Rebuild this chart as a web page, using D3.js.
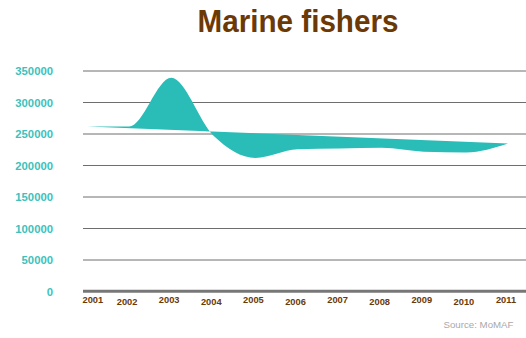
<!DOCTYPE html>
<html>
<head>
<meta charset="utf-8">
<script src="https://cdn.jsdelivr.net/npm/d3@7"></script>
<style>
  html, body { margin: 0; padding: 0; background: #fff; }
  svg { display: block; }
</style>
</head>
<body>
<svg id="chart" width="526" height="338"></svg>
<script>
// Marine fishers per year
const years   = [2001, 2002, 2003, 2004, 2005, 2006, 2007, 2008, 2009, 2010, 2011];
const fishers = [261000, 261000, 338500, 247000, 211300, 225000, 226200, 227400, 221100, 219800, 234100];

// Straight reference line between the first and last year
const trendYears  = [2001, 2011];
const trendValues = [261000, 234100];

const yTicks = [0, 50000, 100000, 150000, 200000, 250000, 300000, 350000];
const xTickLabels = ["2001", "2002", "2003", "2004", "2005", "2006", "2007", "2008", "2009", "2010", "2011"];

const svg = d3.select("#chart");
const W = 526;
const axisLeft = 83;

const x = d3.scaleLinear().domain([2001, 2011]).range([87, 508]);
const y = d3.scaleLinear().domain([0, 350000]).range([291, 70.5]);

// Title
svg.append("text")
  .attr("x", 298).attr("y", 31.5)
  .attr("text-anchor", "middle")
  .attr("font-family", "'Liberation Sans', Arial, sans-serif")
  .attr("font-weight", "bold")
  .attr("font-size", 31)
  .attr("textLength", 201)
  .attr("lengthAdjust", "spacingAndGlyphs")
  .attr("fill", "#6b3906")
  .text("Marine fishers");

// Horizontal gridlines with value labels
const yAxis = d3.axisLeft(y)
  .tickValues(yTicks)
  .tickFormat(d3.format("d"))
  .tickSizeInner(-(W - axisLeft))
  .tickSizeOuter(0)
  .tickPadding(30);

const gy = svg.append("g")
  .attr("transform", `translate(${axisLeft},0)`)
  .call(yAxis);
gy.select(".domain").remove();
gy.selectAll(".tick line")
  .attr("stroke", "#6e6e6e")
  .attr("stroke-width", 1);
gy.selectAll(".tick text")
  .attr("font-family", "'Liberation Sans', Arial, sans-serif")
  .attr("font-weight", "bold")
  .attr("font-size", 11.3)
  .attr("fill", "#3cc2bc")
  .attr("dy", "0.36em");

// Filled band between the yearly curve and the straight reference line
const curveLine = d3.line()
  .x((d, i) => x(years[i]))
  .y(d => y(d))
  .curve(d3.curveMonotoneX);

// Reference line walked backwards, from the last year to the first
const backPath = d3.line()
  .x(d => x(d[0]))
  .y(d => y(d[1]))(trendYears.map((yr, i) => [yr, trendValues[i]]).reverse());

svg.append("path")
  .attr("d", curveLine(fishers) + backPath.replace(/^M/, "L") + "Z")
  .attr("fill", "#2abcb7")
  .attr("fill-rule", "nonzero")
  .attr("stroke", "none");

// Heavy baseline at zero
svg.append("line")
  .attr("x1", axisLeft).attr("x2", W)
  .attr("y1", y(0) + 0.3).attr("y2", y(0) + 0.3)
  .attr("stroke", "#777777")
  .attr("stroke-width", 3);

// Year labels, alternating slightly in height
svg.append("g")
  .selectAll("text")
  .data(xTickLabels)
  .join("text")
  .attr("x", (d, i) => i === 0 ? axisLeft - 0.5 : x(years[i]) - 2)
  .attr("y", (d, i) => i % 2 === 0 ? 303.3 : 305)
  .attr("text-anchor", (d, i) => i === 0 ? "start" : "middle")
  .attr("font-family", "'Liberation Sans', Arial, sans-serif")
  .attr("font-weight", "bold")
  .attr("font-size", 9.3)
  .attr("fill", "#6b3906")
  .text(d => d);

// Source note
svg.append("text")
  .attr("x", 513.5).attr("y", 327.7)
  .attr("text-anchor", "end")
  .attr("font-family", "'Liberation Sans', Arial, sans-serif")
  .attr("font-size", 9.7)
  .attr("fill", "#a9a9a9")
  .text("Source: MoMAF");
</script>
</body>
</html>
